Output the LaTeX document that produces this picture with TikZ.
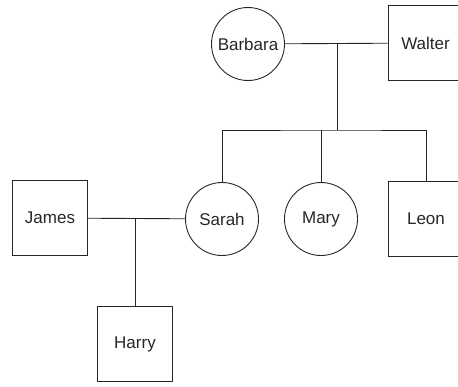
\documentclass[tikz,border=0pt]{standalone}
\usepackage{fontspec}
\setmainfont{Liberation Sans}
\usepackage{tikz}
\usetikzlibrary{shapes,backgrounds}

\begin{document}
\begin{tikzpicture}[-,x=1pt,y=-1pt,auto,
                    line width=0.9pt,draw=black!85,text=black!85,
                    every node/.style={font=\fontsize{17}{20}\selectfont},
                    female node/.style={circle,draw,inner sep=0pt,minimum size=73pt},
                    male node/.style={rectangle,draw,inner sep=0pt,minimum size=75pt}]
  \useasboundingbox (0,0) rectangle (458,386);

  \node[female node] (barbara) at (248,44) {Barbara};
  \node[male node] (walter) at (425.5,43) {Walter};
  \node[female node] (sarah) at (222,219) {Sarah};
  \node[female node] (mary) at (321,219) {Mary};
  \node[male node] (leon) at (426,219) {Leon};
  \node[male node] (james) at (50,218) {James};
  \node[male node] (harry) at (135,344) {Harry};

  \coordinate (bw) at (337,43);
  \coordinate (kids) at (337,130);
  \coordinate (js) at (135,218);

  \path
    (barbara) edge node {} (walter)
    (bw) edge node {} (kids)
    (mary) edge node {} (mary |- kids)
    (james) edge node {} (sarah)
    (js) edge node {} (harry)
    ;
  \draw (sarah) |- (kids) -| (leon);
\end{tikzpicture}
\end{document}
